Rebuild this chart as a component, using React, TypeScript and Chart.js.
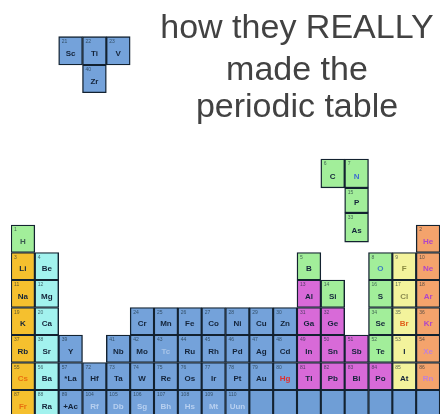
import React, { useEffect, useRef } from 'react';
import { Chart, registerables } from 'chart.js';

Chart.register(...registerables);

// ---------- data ----------
const columns = ['1', '2', '3', '4', '5', '6', '7', '8', '9', '10', '11', '12', '13', '14', '15', '16', '17', '18'];

const titleLines = ['how they REALLY', 'made the', 'periodic table'];

// element symbols per period row ('' = no symbol)
const row1Symbols = ['H', '', '', '', '', '', '', '', '', '', '', '', '', '', '', '', '', 'He'];
const row2Symbols = ['Li', 'Be', '', '', '', '', '', '', '', '', '', '', 'B', '', '', 'O', 'F', 'Ne'];
const row3Symbols = ['Na', 'Mg', '', '', '', '', '', '', '', '', '', '', 'Al', 'Si', '', 'S', 'Cl', 'Ar'];
const row4Symbols = ['K', 'Ca', '', '', '', 'Cr', 'Mn', 'Fe', 'Co', 'Ni', 'Cu', 'Zn', 'Ga', 'Ge', '', 'Se', 'Br', 'Kr'];
const row5Symbols = ['Rb', 'Sr', 'Y', '', 'Nb', 'Mo', 'Tc', 'Ru', 'Rh', 'Pd', 'Ag', 'Cd', 'In', 'Sn', 'Sb', 'Te', 'I', 'Xe'];
const row6Symbols = ['Cs', 'Ba', '*La', 'Hf', 'Ta', 'W', 'Re', 'Os', 'Ir', 'Pt', 'Au', 'Hg', 'Tl', 'Pb', 'Bi', 'Po', 'At', 'Rn'];
const row7Symbols = ['Fr', 'Ra', '+Ac', 'Rf', 'Db', 'Sg', 'Bh', 'Hs', 'Mt', 'Uun', '', '', '', '', '', '', '', ''];

// atomic numbers per row (0 = none)
const row1Numbers = [1, 0, 0, 0, 0, 0, 0, 0, 0, 0, 0, 0, 0, 0, 0, 0, 0, 2];
const row2Numbers = [3, 4, 0, 0, 0, 0, 0, 0, 0, 0, 0, 0, 5, 0, 0, 8, 9, 10];
const row3Numbers = [11, 12, 0, 0, 0, 0, 0, 0, 0, 0, 0, 0, 13, 14, 0, 16, 17, 18];
const row4Numbers = [19, 20, 0, 0, 0, 24, 25, 26, 27, 28, 29, 30, 31, 32, 0, 34, 35, 36];
const row5Numbers = [37, 38, 39, 0, 41, 42, 43, 44, 45, 46, 47, 48, 49, 50, 51, 52, 53, 54];
const row6Numbers = [55, 56, 57, 72, 73, 74, 75, 76, 77, 78, 79, 80, 81, 82, 83, 84, 85, 86];
const row7Numbers = [87, 88, 89, 104, 105, 106, 107, 108, 109, 110, 0, 0, 0, 0, 0, 0, 0, 0];

// element groups per row: n nonmetal, a alkali, e alkaline earth, t transition,
// p poor metal, h halogen, g noble gas, f filler block, '' empty
const row1Groups = ['n', '', '', '', '', '', '', '', '', '', '', '', '', '', '', '', '', 'g'];
const row2Groups = ['a', 'e', '', '', '', '', '', '', '', '', '', '', 'n', '', '', 'n', 'h', 'g'];
const row3Groups = ['a', 'e', '', '', '', '', '', '', '', '', '', '', 'p', 'n', '', 'n', 'h', 'g'];
const row4Groups = ['a', 'e', '', '', '', 't', 't', 't', 't', 't', 't', 't', 'p', 'p', '', 'n', 'h', 'g'];
const row5Groups = ['a', 'e', 't', '', 't', 't', 't', 't', 't', 't', 't', 't', 'p', 'p', 'p', 'n', 'h', 'g'];
const row6Groups = ['a', 'e', 't', 't', 't', 't', 't', 't', 't', 't', 't', 't', 'p', 'p', 'p', 'p', 'h', 'g'];
const row7Groups = ['a', 'e', 't', 't', 't', 't', 't', 't', 't', 't', 'f', 'f', 'f', 'f', 'f', 'f', 'f', 'f'];

// falling pieces
const tTopSymbols = ['', '', 'Sc', 'Ti', 'V', '', '', '', '', '', '', '', '', '', '', '', '', ''];
const tTopNumbers = [0, 0, 21, 22, 23, 0, 0, 0, 0, 0, 0, 0, 0, 0, 0, 0, 0, 0];
const tTopGroups = ['', '', 't', 't', 't', '', '', '', '', '', '', '', '', '', '', '', '', ''];
const tBottomSymbols = ['', '', '', 'Zr', '', '', '', '', '', '', '', '', '', '', '', '', '', ''];
const tBottomNumbers = [0, 0, 0, 40, 0, 0, 0, 0, 0, 0, 0, 0, 0, 0, 0, 0, 0, 0];
const tBottomGroups = ['', '', '', 't', '', '', '', '', '', '', '', '', '', '', '', '', '', ''];
const cnTopSymbols = ['', '', '', '', '', '', '', '', '', '', '', '', '', 'C', 'N', '', '', ''];
const cnTopNumbers = [0, 0, 0, 0, 0, 0, 0, 0, 0, 0, 0, 0, 0, 6, 7, 0, 0, 0];
const cnTopGroups = ['', '', '', '', '', '', '', '', '', '', '', '', '', 'n', 'n', '', '', ''];
const pSymbols = ['', '', '', '', '', '', '', '', '', '', '', '', '', '', 'P', '', '', ''];
const pNumbers = [0, 0, 0, 0, 0, 0, 0, 0, 0, 0, 0, 0, 0, 0, 15, 0, 0, 0];
const pGroups = ['', '', '', '', '', '', '', '', '', '', '', '', '', '', 'n', '', '', ''];
const asSymbols = ['', '', '', '', '', '', '', '', '', '', '', '', '', '', 'As', '', '', ''];
const asNumbers = [0, 0, 0, 0, 0, 0, 0, 0, 0, 0, 0, 0, 0, 0, 33, 0, 0, 0];
const asGroups = ['', '', '', '', '', '', '', '', '', '', '', '', '', '', 'n', '', '', ''];

// vertical extent of each block row, in period units (period 1 spans 0..1)
const rowSpans: [number, number][] = [
  [0, 1], [1, 2], [2, 3], [3, 4], [4, 5], [5, 6], [6, 7],
  [-6.85, -5.82], [-5.82, -4.81],
  [-2.4, -1.35], [-1.35, -0.44], [-0.44, 0.62],
];
const rowSymbols = [row1Symbols, row2Symbols, row3Symbols, row4Symbols, row5Symbols, row6Symbols, row7Symbols,
  tTopSymbols, tBottomSymbols, cnTopSymbols, pSymbols, asSymbols];
const rowNumbers = [row1Numbers, row2Numbers, row3Numbers, row4Numbers, row5Numbers, row6Numbers, row7Numbers,
  tTopNumbers, tBottomNumbers, cnTopNumbers, pNumbers, asNumbers];
const rowGroups = [row1Groups, row2Groups, row3Groups, row4Groups, row5Groups, row6Groups, row7Groups,
  tTopGroups, tBottomGroups, cnTopGroups, pGroups, asGroups];

// ---------- styles ----------
const groupColors: Record<string, string> = {
  n: '#a2ee9a',
  a: '#f5c02e',
  e: '#a2f2ee',
  t: '#74a2da',
  p: '#d86ad8',
  h: '#f3f39c',
  g: '#f4a36c',
  f: '#6f9ed6',
};
const symbolInk: Record<string, string> = {
  H: '#3a5a50', He: '#b045c8', Ne: '#b045c8', Ar: '#b045c8', Kr: '#b045c8', Xe: '#c080d8', Rn: '#c080d8',
  N: '#3f6fd0', O: '#3f7fc0', F: '#8a8a40', Cl: '#8a8a50', Br: '#e0601a', Hg: '#e03030',
  Cs: '#e87010', Fr: '#e87010', Tc: '#a8c4e8',
  Rf: '#b8d0f0', Db: '#b8d0f0', Sg: '#b8d0f0', Bh: '#b8d0f0', Hs: '#b8d0f0', Mt: '#b8d0f0', Uun: '#b8d0f0',
};
const defaultInk = '#14243a';
const cellBorder = '#132230';

const Y_MIN = -225 / 27.5;
const Y_MAX = 189 / 27.5;

const labelPlugin = {
  id: 'cellLabels',
  afterDatasetsDraw(chart: any) {
    const ctx = chart.ctx;
    ctx.save();
    const area = chart.chartArea;
    ctx.beginPath();
    ctx.rect(area.left, area.top, area.right - area.left, area.bottom - area.top);
    ctx.clip();
    chart.data.datasets.forEach((_ds: any, di: number) => {
      const meta = chart.getDatasetMeta(di);
      const syms = rowSymbols[di];
      const nums = rowNumbers[di];
      meta.data.forEach((el: any, i: number) => {
        if (!rowGroups[di][i]) return;
        const top = Math.min(el.y, el.base);
        const bottom = Math.max(el.y, el.base);
        const left = el.x - el.width / 2;
        if (nums[i]) {
          ctx.fillStyle = 'rgba(20,40,50,0.7)';
          ctx.font = '5px "Liberation Sans", Arial, sans-serif';
          ctx.textAlign = 'left';
          ctx.textBaseline = 'top';
          ctx.fillText(String(nums[i]), left + 3, top + 2.5);
        }
        if (syms[i]) {
          ctx.fillStyle = symbolInk[syms[i]] || defaultInk;
          ctx.font = 'bold 8px "Liberation Sans", Arial, sans-serif';
          ctx.textAlign = 'center';
          ctx.textBaseline = 'middle';
          ctx.fillText(syms[i], el.x, top + (bottom - top) * 0.6);
        }
      });
    });
    ctx.restore();
  },
};

const titlePlugin = {
  id: 'memeTitle',
  afterDraw(chart: any) {
    const ctx = chart.ctx;
    ctx.save();
    ctx.fillStyle = '#424242';
    ctx.font = '34px "Liberation Sans", Arial, sans-serif';
    ctx.textAlign = 'center';
    ctx.textBaseline = 'alphabetic';
    const baselines = [38, 80, 117];
    titleLines.forEach((line, i) => ctx.fillText(line, 297, baselines[i]));
    ctx.restore();
  },
};

export default function App() {
  const canvasRef = useRef<HTMLCanvasElement | null>(null);

  useEffect(() => {
    if (!canvasRef.current) return;
    const datasets = rowGroups.map((groups, ri) => ({
      label: 'row' + ri,
      data: groups.map((g) => (g ? rowSpans[ri] : null)),
      backgroundColor: groups.map((g) => groupColors[g] || 'transparent'),
      borderColor: cellBorder,
      borderWidth: 1.4,
      borderSkipped: false,
      barPercentage: 1,
      categoryPercentage: 1,
      grouped: false,
    }));
    const chart = new Chart(canvasRef.current, {
      type: 'bar',
      data: { labels: columns, datasets: datasets as any },
      options: {
        animation: false,
        responsive: false,
        layout: { padding: { left: 11, right: 2, top: 0, bottom: 0 } },
        plugins: {
          legend: { display: false },
          tooltip: { enabled: false },
          title: { display: false },
        },
        scales: {
          x: { display: false },
          y: { display: false, min: Y_MIN, max: Y_MAX, reverse: true },
        },
      },
      plugins: [labelPlugin, titlePlugin],
    });
    return () => chart.destroy();
  }, []);

  return (
    <div style={{ position: 'fixed', left: 0, top: 0, width: 442, height: 414, background: '#fff' }}>
      <canvas ref={canvasRef} width={442} height={414} style={{ display: 'block' }} />
    </div>
  );
}
